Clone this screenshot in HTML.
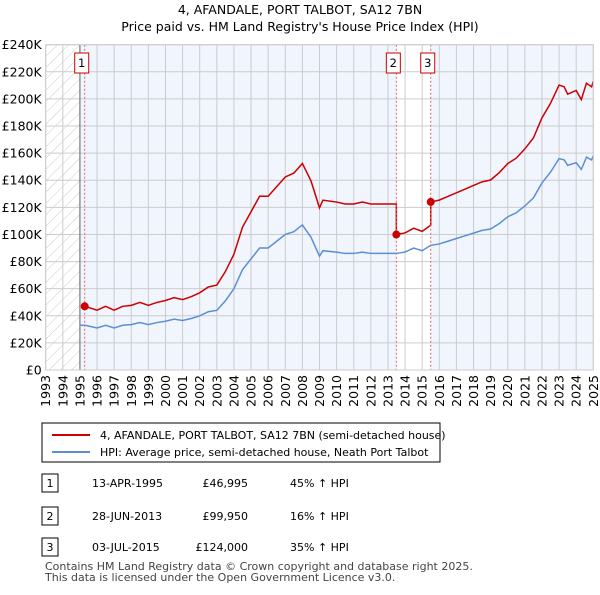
<!DOCTYPE html>
<html><head><meta charset="utf-8"><style>
body{margin:0;background:#fff;font-family:"Liberation Sans","DejaVu Sans",sans-serif;}
svg text{font-family:"DejaVu Sans","Liberation Sans",sans-serif;}
</style></head><body>
<svg id="c" width="600" height="590" xmlns="http://www.w3.org/2000/svg">
<defs><pattern id="hatch" width="8" height="8" patternUnits="userSpaceOnUse" patternTransform="rotate(45)"><line x1="0" y1="0" x2="0" y2="8" stroke="#ccc" stroke-width="1"/></pattern></defs>
<text x="300" y="14" text-anchor="middle" font-size="12.5">4, AFANDALE, PORT TALBOT, SA12 7BN</text>
<text x="300" y="31" text-anchor="middle" font-size="12.5">Price paid vs. HM Land Registry's House Price Index (HPI)</text>
<g id="plot"></g>
<g>
<rect x="42" y="423" width="398" height="39" fill="#fff" stroke="#000" stroke-width="1"/>
<line x1="52" y1="435" x2="90" y2="435" stroke="#cc0000" stroke-width="2"/>
<text x="100" y="439" font-size="11">4, AFANDALE, PORT TALBOT, SA12 7BN (semi-detached house)</text>
<line x1="52" y1="452" x2="90" y2="452" stroke="#5b8fd4" stroke-width="2"/>
<text x="100" y="456" font-size="11">HPI: Average price, semi-detached house, Neath Port Talbot</text>
</g>
<g font-size="11">
<rect x="42" y="474" width="16" height="18" fill="#fff" stroke="#000"/><text x="50" y="487" text-anchor="middle">1</text>
<text x="92" y="487">13-APR-1995</text><text x="248" y="487" text-anchor="end">£46,995</text><text x="290" y="487">45% ↑ HPI</text>
<rect x="42" y="507" width="16" height="18" fill="#fff" stroke="#000"/><text x="50" y="520" text-anchor="middle">2</text>
<text x="92" y="520">28-JUN-2013</text><text x="248" y="520" text-anchor="end">£99,950</text><text x="290" y="520">16% ↑ HPI</text>
<rect x="42" y="538" width="16" height="18" fill="#fff" stroke="#000"/><text x="50" y="551" text-anchor="middle">3</text>
<text x="92" y="551">03-JUL-2015</text><text x="248" y="551" text-anchor="end">£124,000</text><text x="290" y="551">35% ↑ HPI</text>
</g>
<text x="45" y="570" font-size="11" fill="#444">Contains HM Land Registry data © Crown copyright and database right 2025.</text>
<text x="45" y="581" font-size="11" fill="#444">This data is licensed under the Open Government Licence v3.0.</text>
</svg>
<script>
const hpiYears=[1995,1995.3,1996,1996.5,1997,1997.5,1998,1998.5,1999,1999.5,2000,2000.5,2001,2001.5,2002,2002.5,2003,2003.5,2004,2004.5,2005,2005.5,2006,2006.5,2007,2007.5,2008,2008.5,2009,2009.2,2010,2010.5,2011,2011.5,2012,2012.5,2013,2013.49,2014,2014.5,2015,2015.5,2016,2016.5,2017,2017.5,2018,2018.5,2019,2019.5,2020,2020.5,2021,2021.5,2022,2022.5,2023,2023.3,2023.5,2024,2024.3,2024.6,2024.9,2025];
const hpiValues=[33,33,31,33,31,33,33.5,35,33.5,35,36,37.5,36.5,38,40,43,44,51,60,74,82,90,90,95,100,102,107,98,84,88,87,86,86,87,86,86,86,86,87,90,88,92,93,95,97,99,101,103,104,108,113,116,121,127,138,146,156,155,151,153,148,157,155,158];
const saleYears=[1995.28,2013.49,2015.5];
const salePrices=[46.995,99.95,124];
const saleLabels=["1","2","3"];
const yTicks=[0,20,40,60,80,100,120,140,160,180,200,220,240];
const xTicks=[1993,1994,1995,1996,1997,1998,1999,2000,2001,2002,2003,2004,2005,2006,2007,2008,2009,2010,2011,2012,2013,2014,2015,2016,2017,2018,2019,2020,2021,2022,2023,2024,2025];
const X0=45.7,X1=593.3,Y0=370,Y1=44.7;
const xs=y=>X0+(y-1993)/(2025-1993)*(X1-X0);
const ys=v=>Y0-v/240*(Y0-Y1);
const NS="http://www.w3.org/2000/svg";
const g=document.getElementById('plot');
function mk(t,a){const e=document.createElementNS(NS,t);for(const k in a)e.setAttribute(k,a[k]);g.appendChild(e);return e;}
function interp(yr){for(let i=0;i<hpiYears.length-1;i++){if(yr<=hpiYears[i+1]){const f=(yr-hpiYears[i])/(hpiYears[i+1]-hpiYears[i]);return hpiValues[i]+f*(hpiValues[i+1]-hpiValues[i]);}}return hpiValues[hpiValues.length-1];}
let e;
e=mk('rect',{x:X0,y:Y1,width:X1-X0,height:Y0-Y1,fill:'#fff'});


e=mk('rect',{x:X0,y:Y1,width:xs(1995)-X0,height:Y0-Y1,fill:'url(#hatch)'});


e=mk('rect',{x:xs(1995),y:Y1,width:xs(saleYears[1])-xs(1995),height:Y0-Y1,fill:'#eef3fc',opacity:0.8});


e=mk('rect',{x:xs(saleYears[2]),y:Y1,width:X1-xs(saleYears[2]),height:Y0-Y1,fill:'#eef3fc',opacity:0.8});


yTicks.forEach(v=>{
 e=mk('line',{x1:X0,x2:X1,y1:ys(v),y2:ys(v),stroke:'#ccc','stroke-width':1});
 
 
 e=mk('text',{x:X0-4,y:ys(v)+4.5,'text-anchor':'end','font-size':'12.5'});e.textContent=v===0?'£0':'£'+v+'K';
 
 
});
xTicks.forEach(y=>{
 e=mk('line',{x1:xs(y),x2:xs(y),y1:Y1,y2:Y0,stroke:'#ccc','stroke-width':1});
 
 
 const tx=xs(y)+4.5,ty=Y0+5;
 e=mk('text',{x:tx,y:ty,'text-anchor':'end','font-size':'12.5',transform:'rotate(-90 '+tx+' '+ty+')'});e.textContent=String(y);
 
 
});
e=mk('line',{x1:xs(1995),x2:xs(1995),y1:Y1,y2:Y0,stroke:'#666','stroke-width':1});


e=mk('polyline',{points:hpiYears.map((y,i)=>xs(y)+','+ys(hpiValues[i])).join(' '),fill:'none',stroke:'#5b8fd4','stroke-width':1.5});


const ratios=saleYears.map((s,i)=>salePrices[i]/interp(s));
let pts=[];
saleYears.forEach((s,i)=>{const end=i<saleYears.length-1?saleYears[i+1]:2025.1;
 pts.push([s,salePrices[i]]);
 hpiYears.forEach((y,j)=>{if(y>s&&y<end)pts.push([y,hpiValues[j]*ratios[i]]);});
 if(i<saleYears.length-1)pts.push([end,interp(end)*ratios[i]]);
});
e=mk('polyline',{points:pts.map(p=>xs(p[0])+','+ys(p[1])).join(' '),fill:'none',stroke:'#cc0000','stroke-width':1.5});


saleYears.forEach((s,i)=>{
 e=mk('line',{x1:xs(s),x2:xs(s),y1:Y1,y2:Y0,stroke:'#e06666','stroke-width':1,'stroke-dasharray':'2,2'});
 
 
 e=mk('circle',{cx:xs(s),cy:ys(salePrices[i]),r:4,fill:'#cc0000'});
 
 
 const bx=xs(s)-10;
 e=mk('rect',{x:bx,y:53,width:14,height:20,fill:'#fff',stroke:'#cc0000'});
 
 
 e=mk('text',{x:bx+7,y:67,'text-anchor':'middle','font-size':'11.5'});e.textContent=saleLabels[i];
 
 
});
e=mk('rect',{x:X0,y:Y1,width:X1-X0,height:Y0-Y1,fill:'none',stroke:'#ccc'});


</script>
</body></html>
